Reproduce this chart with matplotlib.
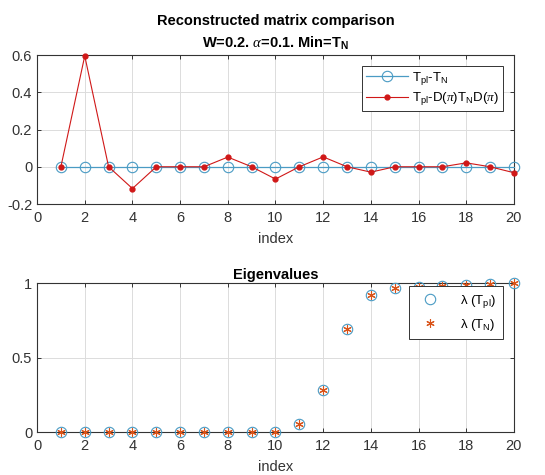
import matplotlib
matplotlib.use("Agg")
import matplotlib.pyplot as plt
import numpy as np

plt.rcParams['font.family'] = ['Liberation Sans', 'DejaVu Sans']
plt.rcParams['mathtext.fontset'] = 'custom'
plt.rcParams['mathtext.rm'] = 'Liberation Sans'
plt.rcParams['mathtext.it'] = 'Liberation Serif:italic'
plt.rcParams['mathtext.bf'] = 'Liberation Sans:bold'
plt.rcParams['mathtext.default'] = 'rm'

# ---- data ----
index = list(range(1, 21))
diff_TN = [0.0] * 20
diff_perm = [0.0, 0.595, 0.0, -0.117, 0.0, 0.0, 0.0, 0.052, 0.0, -0.066,
             0.0, 0.053, 0.0, -0.029, 0.0, 0.0, 0.0, 0.021, 0.0, -0.032]
eig_Tpl = [0.0, 0.0, 0.0, 0.0, 0.0, 0.0, 0.0, 0.0, 0.0, 0.003,
           0.054, 0.282, 0.690, 0.920, 0.967, 0.973, 0.978, 0.986, 0.993, 1.0]
eig_TN = list(eig_Tpl)

xticks = [0, 2, 4, 6, 8, 10, 12, 14, 16, 18, 20]
yticks_top = [-0.2, 0, 0.2, 0.4, 0.6]
ytick_labels_top = ['-0.2', '0', '0.2', '0.4', '0.6']
yticks_bot = [0, 0.5, 1]
ytick_labels_bot = ['0', '0.5', '1']

BLUE = '#4a9bc4'
RED = '#d01818'
ORANGE = '#d95319'
AX = '#333333'

fig = plt.figure(figsize=(5.45, 4.75), dpi=100)
ax1 = fig.add_axes([0.068, 0.5705, 0.875, 0.3137])
ax2 = fig.add_axes([0.068, 0.0905, 0.875, 0.3137])

def style(ax):
    ax.grid(True, color='#dcdcdc', linewidth=0.7)
    ax.set_axisbelow(True)
    for s in ax.spines.values():
        s.set_color(AX)
        s.set_linewidth(0.8)
    ax.tick_params(direction='in', length=3, width=0.7, colors=AX,
                   labelsize=10.5, top=True, right=True, labeltop=False, labelright=False)
    ax.tick_params(axis='x', pad=5)
    ax.set_xlim(0, 20)
    ax.set_xticks(xticks)
    ax.set_xticklabels([str(t) for t in xticks])
    ax.set_xlabel('index', fontsize=10.5, color=AX, labelpad=5)

# top
ax1.plot(index, diff_TN, color=BLUE, linewidth=0.9, marker='o', markersize=7.5,
         markerfacecolor='none', markeredgecolor=BLUE, markeredgewidth=0.8,
         label=r'T$_{pl}$-T$_N$', zorder=3, clip_on=False)
ax1.plot(index, diff_perm, color=RED, linewidth=0.8, marker='o', markersize=3.5,
         markerfacecolor=RED, markeredgecolor=RED,
         label=r'T$_{pl}$-D($\mathit{\pi}$)T$_N$D($\mathit{\pi}$)', zorder=4, clip_on=False)
style(ax1)
ax1.set_ylim(-0.2, 0.6)
ax1.set_yticks(yticks_top)
ax1.set_yticklabels(ytick_labels_top)
ax1.set_title('Reconstructed matrix comparison\n' + r'W=0.2. $\mathit{\alpha}$=0.1. Min=T$_\mathbf{N}$',
              fontsize=10.5, fontweight='bold', color='black', pad=5, linespacing=1.55)
leg1 = ax1.legend(loc='upper right', bbox_to_anchor=(0.977, 0.926), borderaxespad=0,
                  fontsize=9.5, frameon=True, fancybox=False, edgecolor=AX, framealpha=1,
                  handlelength=3.2, handletextpad=0.3, borderpad=0.3, labelspacing=0.25)
leg1.get_frame().set_linewidth(0.7)

# bottom
ax2.plot(index, eig_Tpl, linestyle='none', marker='o', markersize=7.5,
         markerfacecolor='none', markeredgecolor=BLUE, markeredgewidth=0.8,
         label=r'$\lambda$ (T$_{pl}$)', zorder=3, clip_on=False)
ax2.plot(index, eig_TN, linestyle='none', marker=(6, 2, 0), markersize=6,
         markeredgecolor=ORANGE, markeredgewidth=0.8, color=ORANGE,
         label=r'$\lambda$ (T$_N$)', zorder=4, clip_on=False)
style(ax2)
ax2.set_ylim(0, 1)
ax2.set_yticks(yticks_bot)
ax2.set_yticklabels(ytick_labels_bot)
ax2.set_title('Eigenvalues', fontsize=10.5, fontweight='bold', color='black', pad=3)
leg2 = ax2.legend(loc='upper right', bbox_to_anchor=(0.977, 0.98), borderaxespad=0,
                  fontsize=9.5, frameon=True, fancybox=False, edgecolor=AX, framealpha=1,
                  handlelength=2.2, handletextpad=1.2, borderpad=0.5, labelspacing=0.55)
leg2.get_frame().set_linewidth(0.7)

fig.savefig('out.png', dpi=100)
